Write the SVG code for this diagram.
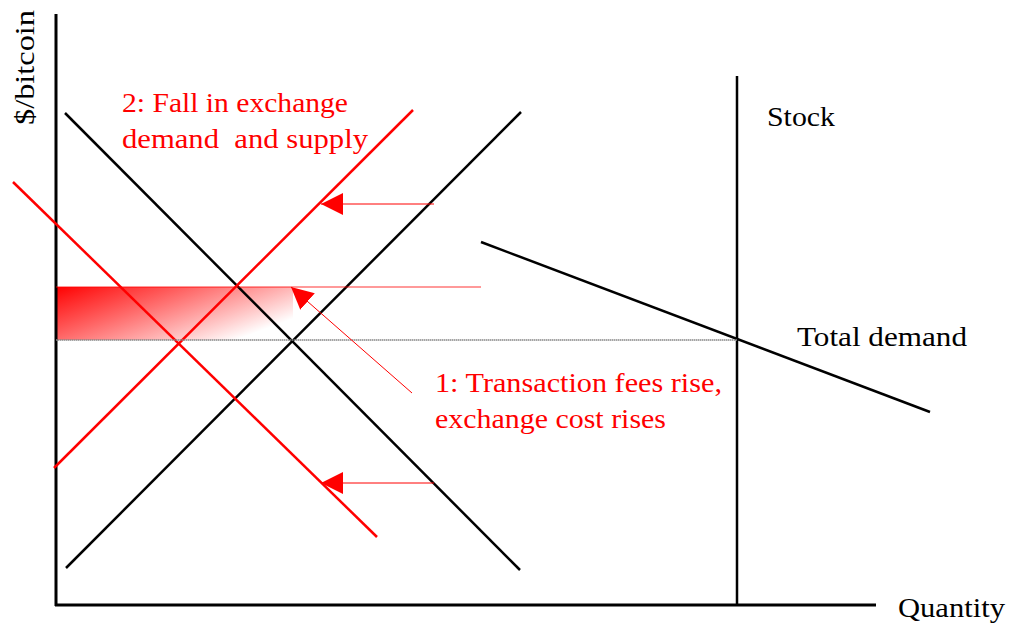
<svg xmlns="http://www.w3.org/2000/svg" width="1009" height="628" viewBox="0 0 1009 628">
<style>
.t{font-family:"Liberation Serif","Times New Roman",serif;font-size:28px;fill:#000}
.r{fill:#ff0000}
.blk{stroke:#000;stroke-width:2.5;fill:none}
.red{stroke:#ff0000;stroke-width:2.5;fill:none}
.thin{stroke:#ff0000;stroke-width:1;fill:none}
</style>
<defs>
<linearGradient id="g" x1="0" y1="0" x2="1" y2="0.6">
<stop offset="0" stop-color="#ff0000" stop-opacity="1"/>
<stop offset="0.2" stop-color="#ff1a1a" stop-opacity="0.9"/>
<stop offset="1" stop-color="#ff0000" stop-opacity="0"/>
</linearGradient>
<marker id="ah" viewBox="0 0 10 10" refX="10" refY="5" markerWidth="22" markerHeight="22" markerUnits="userSpaceOnUse" orient="auto">
<path d="M0,0 L10,5 L0,10 Z" fill="#ff0000"/>
</marker>
</defs>
<rect id="area" x="56" y="287" width="237" height="53" fill="url(#g)"/>
<g id="axes">
<line x1="56" y1="14" x2="56" y2="606" stroke="#000" stroke-width="3"/>
<line x1="55" y1="605" x2="876" y2="605" stroke="#000" stroke-width="3"/>
</g>
<g id="curves">
<line id="demand" class="blk" x1="65" y1="113" x2="520" y2="570"/>
<line id="supply" class="blk" x1="66" y1="568" x2="521" y2="112"/>
<line id="stock" class="blk" x1="737" y1="76" x2="737" y2="605"/>
<line id="totaldemand" class="blk" x1="481" y1="242" x2="930" y2="412"/>
<line id="demand2" class="red" x1="13" y1="182" x2="377" y2="537"/>
<line id="supply2" class="red" x1="54" y1="468" x2="413" y2="110"/>
</g>
<g id="connectors">
<line x1="56" y1="340" x2="737" y2="340" stroke="#888" stroke-width="1.5" stroke-dasharray="1.5,0.5"/>
<line x1="56" y1="287" x2="481" y2="287" stroke="#ff0000" stroke-width="1.2" stroke-opacity="0.8"/>
<line class="thin" x1="434" y1="204" x2="321" y2="204" marker-end="url(#ah)"/>
<line class="thin" x1="434" y1="483" x2="321" y2="483" marker-end="url(#ah)"/>
<line class="thin" x1="412" y1="393" x2="291" y2="287" marker-end="url(#ah)"/>
</g>
<g id="labels">
<text class="t" x="0" y="0" transform="translate(34,125) rotate(-90)" textLength="115" lengthAdjust="spacingAndGlyphs">$/bitcoin</text>
<text class="t r" x="122" y="112" textLength="226" lengthAdjust="spacingAndGlyphs">2: Fall in exchange</text>
<text class="t r" x="122" y="148" textLength="246" lengthAdjust="spacingAndGlyphs" xml:space="preserve">demand  and supply</text>
<text class="t r" x="435" y="392" textLength="287" lengthAdjust="spacingAndGlyphs">1: Transaction fees rise,</text>
<text class="t r" x="435" y="428" textLength="231" lengthAdjust="spacingAndGlyphs">exchange cost rises</text>
<text class="t" x="767" y="126" textLength="68" lengthAdjust="spacingAndGlyphs">Stock</text>
<text class="t" x="797" y="346" textLength="170" lengthAdjust="spacingAndGlyphs">Total demand</text>
<text class="t" x="898" y="617" textLength="107" lengthAdjust="spacingAndGlyphs">Quantity</text>
</g>
</svg>
